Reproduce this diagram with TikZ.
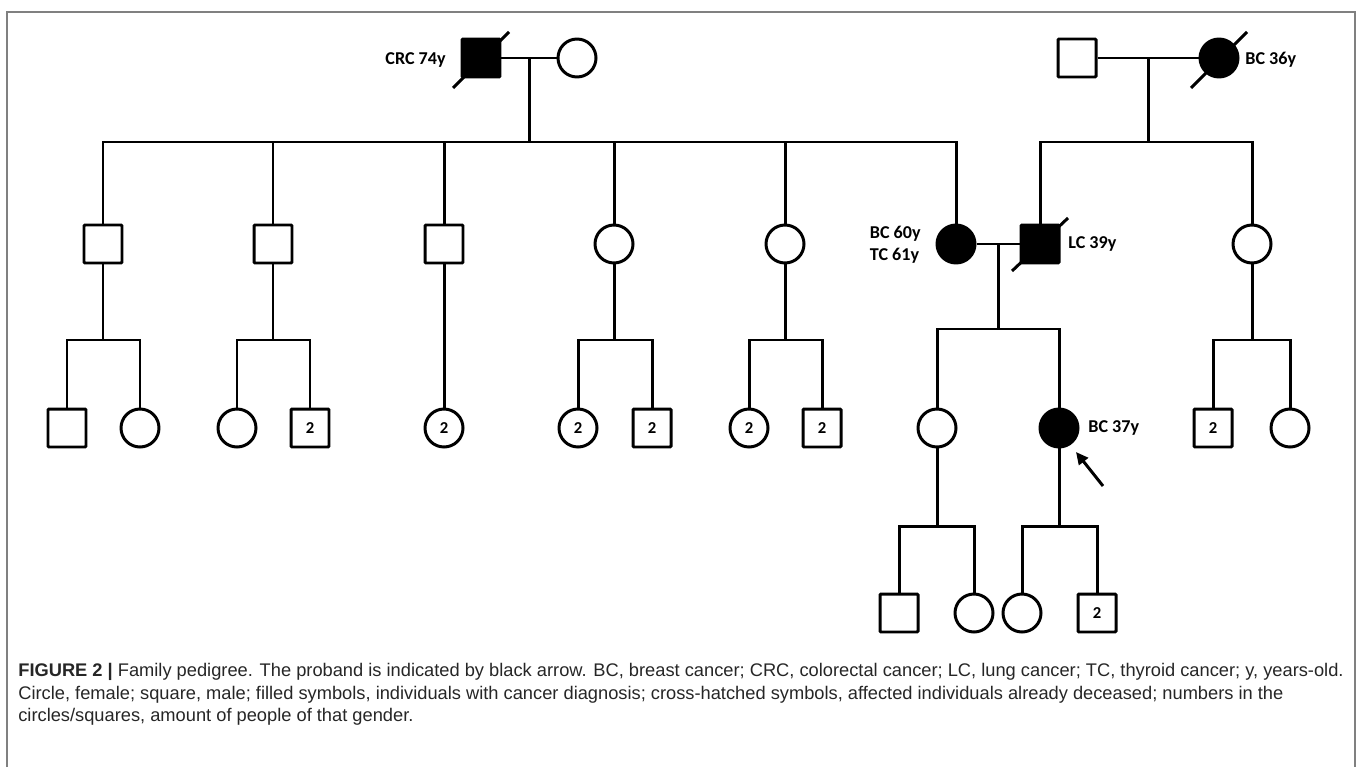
\documentclass[tikz,border=0pt]{standalone}
\usepackage{fontspec}
\setmainfont{Liberation Sans}
\newfontfamily\lblfont{Carlito}
\usetikzlibrary{arrows.meta,calc}
\begin{document}
\begin{tikzpicture}[x=0.02cm,y=-0.02cm,
 ln/.style={line width=1.7pt},
 male/.style={draw,line width=1.7pt,rectangle,minimum size=0.76cm,inner sep=0pt,rounded corners=0.6pt},
 female/.style={draw,line width=1.7pt,circle,minimum size=0.76cm,inner sep=0pt},
 aff/.style={fill=black},
 num/.style={font=\lblfont\bfseries\fontsize{9.5}{10}\selectfont, inner sep=0pt},
 lbl/.style={font=\lblfont\bfseries\fontsize{10.3}{12.5}\selectfont, inner sep=0pt},
 captext/.style={anchor=west, inner sep=0pt, font=\fontsize{10.4}{12}\selectfont, text=black!85}
]
\useasboundingbox (0,0) rectangle (1358,767);
\draw[black!50, line width=1.2pt] (7,767) -- (7,12) -- (1355,12) -- (1355,767);

% Generation I
\node[male,aff] (I1) at (481,58) {};
\node[female] (I2) at (577,58) {};
\node[male] (I3) at (1077,58) {};
\node[female,aff] (I4) at (1219,58) {};
\node[lbl,anchor=east] (lI1) at (446,60) {CRC 74y};
\node[lbl,anchor=west] (lI4) at (1245,60) {BC 36y};
\draw[ln] ($(I1)+(-28,30)$) -- ($(I1)+(28,-26)$);
\draw[ln] ($(I4)+(-28,30)$) -- ($(I4)+(28,-26)$);
\draw[ln] (I1) -- (I2);
\draw[ln] (I3) -- (I4);
\coordinate (m1) at (529,58);
\coordinate (m2) at (1148,58);
\coordinate (s1) at (529,142);
\coordinate (s2) at (1148,142);
\draw[ln] (m1) -- (s1);
\draw[ln] (m2) -- (s2);

% Generation II
\node[male] (A) at (103,244) {};
\node[male] (B) at (273,244) {};
\node[male] (C) at (444,244) {};
\node[female] (D) at (614,244) {};
\node[female] (E) at (785,244) {};
\node[female,aff] (F) at (956,244) {};
\node[male,aff] (H) at (1040,244) {};
\node[female] (G) at (1252,244) {};
\node[lbl,anchor=east,align=left] (lF) at (921,245) {BC 60y\\TC 61y};
\node[lbl,anchor=west] (lH) at (1068,244) {LC 39y};
\draw[ln] ($(H)+(-28,27)$) -- ($(H)+(28,-26)$);
\draw[ln] (A.north) -- (A.north |- s1) -- (F.north |- s1) -- (F.north);
\foreach \n in {B,C,D,E} \draw[ln] (\n.north) -- (\n.north |- s1);
\draw[ln] (H.north) -- (H.north |- s2) -- (G.north |- s2) -- (G.north);
\draw[ln] (F) -- (H);
\coordinate (m3) at (998,244);
\coordinate (s3) at (998,329);
\draw[ln] (m3) -- (s3);

% Generation III
\node[male] (A1) at (67,428) {};
\node[female] (A2) at (140,428) {};
\node[female] (B1) at (237,428) {};
\node[male] (B2) at (310,428) {};
\node[female] (C1) at (444,428) {};
\node[female] (D1) at (578,428) {};
\node[male] (D2) at (652,428) {};
\node[female] (E1) at (749,428) {};
\node[male] (E2) at (822,428) {};
\node[female] (F1) at (937,428) {};
\node[female,aff] (F2) at (1059,428) {};
\node[male] (G1) at (1213,428) {};
\node[female] (G2) at (1290,428) {};
\foreach \n in {B2,C1,D1,D2,E1,E2,G1}
  \node[num] at (\n) {2};
\node[lbl,anchor=west] (lF2) at (1088,428) {BC 37y};

\coordinate (sa) at (103,340);
\coordinate (sb) at (273,340);
\coordinate (sd) at (614,340);
\coordinate (se) at (785,340);
\coordinate (sg) at (1252,340);
\draw[ln] (A) -- (sa);
\draw[ln] (A1.north) -- (A1.north |- sa) -- (A2.north |- sa) -- (A2.north);
\draw[ln] (B) -- (sb);
\draw[ln] (B1.north) -- (B1.north |- sb) -- (B2.north |- sb) -- (B2.north);
\draw[ln] (C) -- (C1);
\draw[ln] (D) -- (sd);
\draw[ln] (D1.north) -- (D1.north |- sd) -- (D2.north |- sd) -- (D2.north);
\draw[ln] (E) -- (se);
\draw[ln] (E1.north) -- (E1.north |- se) -- (E2.north |- se) -- (E2.north);
\draw[ln] (G) -- (sg);
\draw[ln] (G1.north) -- (G1.north |- sg) -- (G2.north |- sg) -- (G2.north);
\draw[ln] (F1.north) -- (F1.north |- s3) -- (F2.north |- s3) -- (F2.north);

% arrow
\coordinate (at) at (1103,486);
\coordinate (ah) at (1076,452);
\draw[line width=1.7pt,-{Triangle[length=7pt,width=6.5pt]}] (at) -- (ah);

% Generation IV
\node[male] (F11) at (899,613) {};
\node[female] (F12) at (974,613) {};
\node[female] (F21) at (1022,613) {};
\node[male] (F22) at (1097,613) {};
\node[num] at (F22) {2};
\coordinate (s4) at (937,526);
\coordinate (s5) at (1059,526);
\draw[ln] (F1) -- (s4);
\draw[ln] (F2) -- (s5);
\draw[ln] (F11.north) -- (F11.north |- s4) -- (F12.north |- s4) -- (F12.north);
\draw[ln] (F21.north) -- (F21.north |- s5) -- (F22.north |- s5) -- (F22.north);

% caption
\node[captext] (c1) at (18,672) {\textbf{FIGURE 2 |} Family pedigree. The proband is indicated by black arrow. BC, breast cancer; CRC, colorectal cancer; LC, lung cancer; TC, thyroid cancer; y, years-old.};
\node[captext] (c2) at (18,695) {Circle, female; square, male; filled symbols, individuals with cancer diagnosis; cross-hatched symbols, affected individuals already deceased; numbers in the};
\node[captext] (c3) at (18,717) {circles/squares, amount of people of that gender.};
\end{tikzpicture}
\end{document}
